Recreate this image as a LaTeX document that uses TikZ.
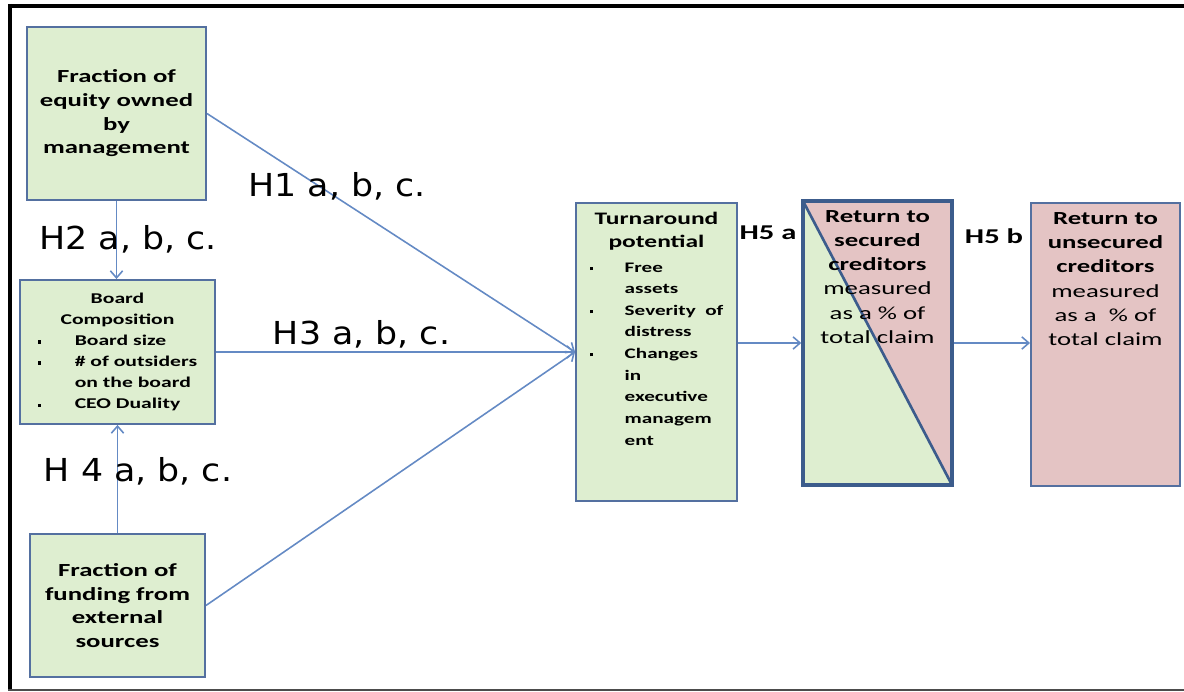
\documentclass[tikz,border=0pt]{standalone}
\usepackage{fontspec}
\setmainfont{Carlito}
\newfontfamily\boxfont[FakeStretch=1.45]{Carlito}
\newfontfamily\hypfont[FakeStretch=1.1]{DejaVu Sans}
\usetikzlibrary{arrows.meta}
\definecolor{boxgreen}{RGB}{222,238,208}
\definecolor{boxpink}{RGB}{228,196,196}
\definecolor{boxline}{RGB}{84,112,160}
\definecolor{darkline}{RGB}{60,92,140}
\definecolor{arrowblue}{RGB}{100,138,196}
\newcommand{\bul}[1]{\makebox[#1][l]{\raisebox{0.3ex}{\rule{1.8pt}{1.8pt}}}}
\begin{document}
\begin{tikzpicture}[x=0.02cm,y=-0.02cm]
        \tikzstyle{factor}=[rectangle,draw=boxline,line width=1.1pt,fill=boxgreen,inner sep=0pt,align=center,font=\fontsize{10.5}{13.5}\boxfont\bfseries]
        \tikzstyle{boxtext}=[inner sep=0pt,align=center,anchor=north,font=\fontsize{10.5}{13.8}\boxfont\bfseries]
        \tikzstyle{edge}=[draw=arrowblue,line width=0.9pt,-{Straight Barb[length=4pt,width=7pt]}]
        \tikzstyle{hyp}=[inner sep=0pt,anchor=base,font=\fontsize{18}{20}\hypfont]
        \tikzstyle{hfive}=[inner sep=0pt,anchor=base,font=\fontsize{12}{14}\boxfont\bfseries]
        \useasboundingbox (0,0) rectangle (1184,692);
        % frame
        \draw[line width=2.5pt] (10,4) -- (10,690);
        \draw[line width=2pt] (8,6) -- (1184,6);
        \draw[line width=0.8pt,black!70] (8,690) -- (1184,690);
        % boxes on the left
        \node [factor,minimum width=3.58cm,minimum height=3.46cm] (equity) at (116.5,113.5) {Fraction of\\equity owned\\by\\management};
        \node [factor,minimum width=3.9cm,minimum height=2.88cm,font=\fontsize{8.5}{12}\boxfont\bfseries] (board) at (117.5,352)
              {\begin{tabular}{@{}l@{}l@{}}
               \multicolumn{2}{c}{Board}\\
               \multicolumn{2}{c}{Composition}\\
               \bul{21pt} & Board size\\
               \bul{21pt} & \# of outsiders\\
                          & on the board\\
               \bul{21pt} & CEO Duality
               \end{tabular}};
        \node [factor,minimum width=3.5cm,minimum height=2.86cm] (funding) at (117.5,605.5) {Fraction of\\funding from\\external\\sources};
        % turnaround
        \node [factor,minimum width=3.22cm,minimum height=5.96cm] (turn) at (656.5,352) {};
        \node [boxtext,font=\fontsize{10}{13}\boxfont\bfseries,yshift=-5.5pt] (turntext) at (turn.north)
              {Turnaround\\potential\\[3pt]
               {\fontsize{8.3}{12.3}\boxfont\bfseries
               \begin{tabular}{@{}l@{}l@{}}
               \bul{20pt} & Free\\
                          & assets\\
               \bul{20pt} & Severity\ \ of\\
                          & distress\\
               \bul{20pt} & Changes\\
                          & in\\
                          & executive\\
                          & managem\\
                          & ent
               \end{tabular}}};
        % returns
        \node [factor,fill=boxpink,draw=darkline,line width=2pt,minimum width=2.98cm,minimum height=5.68cm,
               path picture={\fill[boxgreen] (path picture bounding box.north west) -- (path picture bounding box.south east) -- (path picture bounding box.south west) -- cycle;
                             \draw[darkline,line width=1.5pt] (path picture bounding box.north west) -- (path picture bounding box.south east);}] (secured) at (877.5,343) {};
        \node [boxtext,yshift=-6pt] (securedtext) at (secured.north) {Return to\\secured\\creditors\\\mdseries measured\\\mdseries as a \% of\\\mdseries total claim};
        \node [factor,fill=boxpink,minimum width=2.98cm,minimum height=5.66cm] (unsecured) at (1105.5,344.5) {};
        \node [boxtext,yshift=-5.7pt] (unsecuredtext) at (unsecured.north) {Return to\\unsecured\\creditors\\\mdseries measured\\\mdseries as a \ \% of\\\mdseries total claim};
        % connectors
        \path[edge] (equity.east) -- (turn.west);
        \path[edge] (equity.south) -- (equity.south |- board.north);
        \path[edge] (board.east) -- (turn.west);
        \path[edge] (funding.north) -- (funding.north |- board.south);
        \path[edge] (funding.east) -- (turn.west);
        \path[edge] (turn.east |- secured.west) -- (secured.west);
        \path[edge] (secured.east) -- (secured.east -| unsecured.west);
        % hypotheses
        \node [hyp] (h1) at (337,197) {H1 a, b, c.};
        \node [hyp] (h2) at (128,250) {H2 a, b, c.};
        \node [hyp] (h3) at (361.5,345) {H3 a, b, c.};
        \node [hyp] (h4) at (138,482) {H 4 a, b, c.};
        \node [hfive] (h5a) at (768,240) {H5 a};
        \node [hfive] (h5b) at (994,244) {H5 b};
\end{tikzpicture}
\end{document}
